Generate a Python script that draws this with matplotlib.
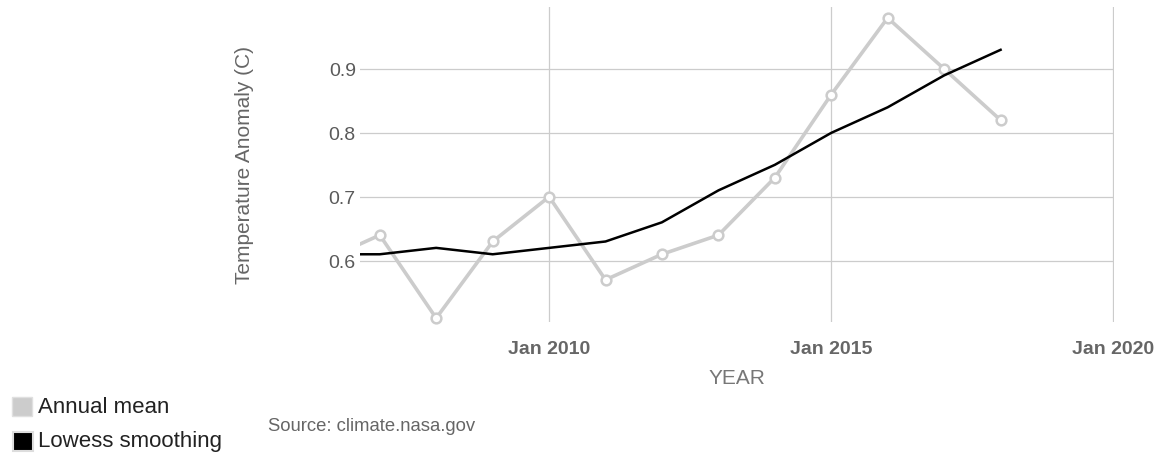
import datetime as dt
import matplotlib
matplotlib.use("Agg")
import matplotlib.pyplot as plt
import matplotlib.dates as mdates
from matplotlib.patches import Rectangle

years = [2006, 2007, 2008, 2009, 2010, 2011, 2012, 2013, 2014, 2015, 2016, 2017, 2018]
annual_mean = [0.60, 0.64, 0.51, 0.63, 0.70, 0.57, 0.61, 0.64, 0.73, 0.86, 0.98, 0.90, 0.82]
lowess = [0.61, 0.61, 0.62, 0.61, 0.62, 0.63, 0.66, 0.71, 0.75, 0.80, 0.84, 0.89, 0.93]
yticks = [0.6, 0.7, 0.8, 0.9]
xtick_years = [2010, 2015, 2020]
xtick_labels = ["Jan 2010", "Jan 2015", "Jan 2020"]

plt.rcParams['font.family'] = ['Liberation Sans', 'DejaVu Sans']

dates = [dt.datetime(y, 1, 1) for y in years]

fig = plt.figure(figsize=(11.65, 4.56), dpi=100)
ax = fig.add_axes([360 / 1165, 1 - 323 / 456, (1114 - 360) / 1165, (323 - 8) / 456])

ax.plot(dates, annual_mean, color='#cccccc', lw=2.6, zorder=3, solid_joinstyle='round')
ax.plot(dates, annual_mean, linestyle='none', marker='o', ms=7,
        mfc='white', mec='#cccccc', mew=1.8, zorder=3.5,
        markevery=slice(1, None), clip_on=False)
ax.plot(dates, lowess, color='black', lw=1.8, zorder=4, solid_joinstyle='round')

xmin = mdates.date2num(dt.datetime(2010, 1, 1)) - 3.351 * 365.25
xmax = mdates.date2num(dt.datetime(2020, 1, 1)) + 4
ax.set_xlim(xmin, xmax)
ax.set_ylim(0.504, 0.997)

ax.set_xticks([mdates.date2num(dt.datetime(y, 1, 1)) for y in xtick_years])
ax.set_xticklabels(xtick_labels, fontsize=14, fontweight='bold', color='#666666')
ax.set_yticks(yticks)
ax.set_yticklabels([f"{v:.1f}" for v in yticks], fontsize=14, color='#5a5a5a')
ax.tick_params(axis='both', length=0)
ax.tick_params(axis='x', pad=13)
ax.tick_params(axis='y', pad=3)

ax.grid(True, color='#cccccc', lw=0.9)
ax.set_axisbelow(True)
for s in ax.spines.values():
    s.set_visible(False)

ax.set_xlabel("YEAR", fontsize=15, color='#777777', labelpad=8)
ax.set_ylabel("Temperature Anomaly (C)", fontsize=15, color='#666666', labelpad=54)

# legend
fig.patches.append(Rectangle((12 / 1165, 1 - 417 / 456), 20 / 1165, 19 / 456,
                             transform=fig.transFigure, facecolor='#cccccc',
                             edgecolor='#e0e0e0', lw=1))
fig.patches.append(Rectangle((13 / 1165, 1 - 452 / 456), 20 / 1165, 19 / 456,
                             transform=fig.transFigure, facecolor='black',
                             edgecolor='#dddddd', lw=1.5))
fig.text(38 / 1165, 1 - 408 / 456, "Annual mean", fontsize=16, color='#222222', va='center')
fig.text(38 / 1165, 1 - 442 / 456, "Lowess smoothing", fontsize=16, color='#222222', va='center')
fig.text(268 / 1165, 1 - 427 / 456, "Source: climate.nasa.gov", fontsize=13.3, color='#666666', va='center')

fig.savefig("out.png", dpi=100)
